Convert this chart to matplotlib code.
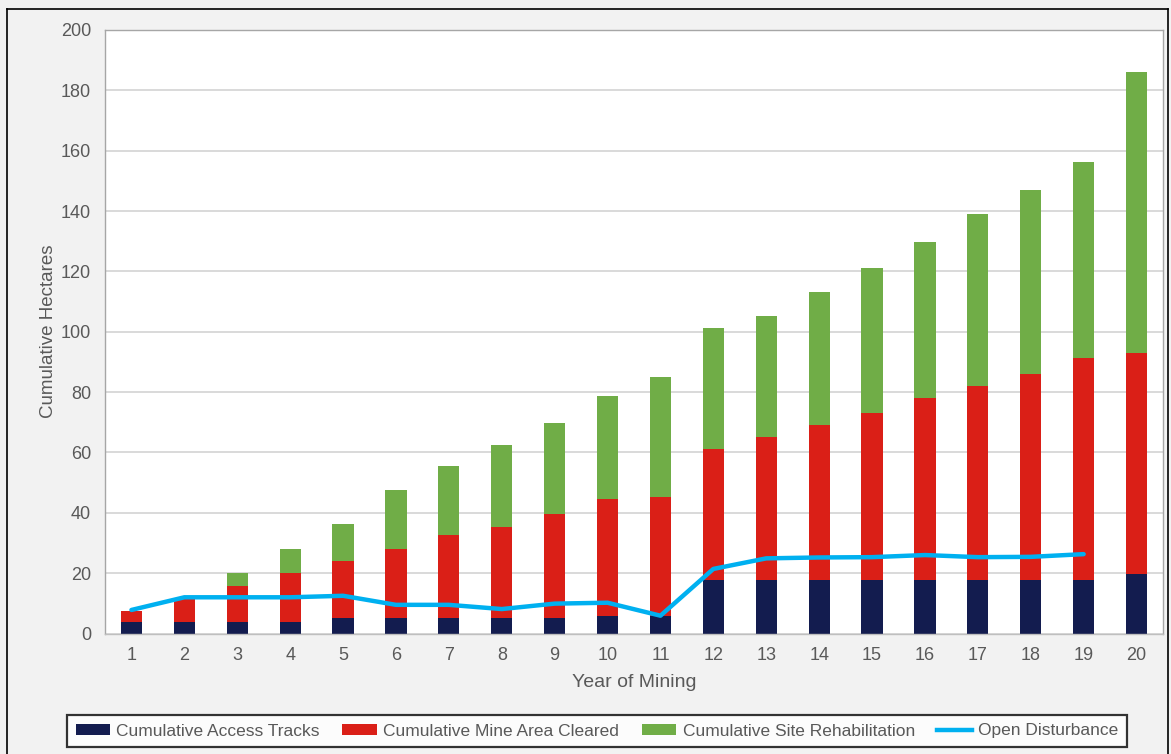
import matplotlib
matplotlib.use("Agg")
import matplotlib.pyplot as plt
from matplotlib.patches import Patch
from matplotlib.lines import Line2D
import numpy as np

plt.rcParams['font.family'] = ['Liberation Sans', 'DejaVu Sans']

years = list(range(1, 21))
access_tracks = [3.7, 3.7, 3.7, 3.7, 5.2, 5.2, 5.2, 5.2, 5.2, 5.8,
                 5.8, 17.7, 17.7, 17.7, 17.7, 17.7, 17.7, 17.7, 17.7, 19.6]
mine_area_cleared = [3.9, 7.6, 12.2, 16.3, 18.9, 22.9, 27.4, 30.1, 34.3, 38.7,
                     39.6, 43.5, 47.5, 51.5, 55.4, 60.3, 64.3, 68.4, 73.6, 73.5]
site_rehabilitation = [0.0, 0.0, 4.1, 7.9, 12.3, 19.4, 22.9, 27.1, 30.3, 34.3,
                       39.6, 40.1, 40.1, 44.1, 48.1, 51.8, 57.0, 60.8, 64.8, 92.9]
open_disturbance = [7.8, 12.0, 12.0, 12.0, 12.5, 9.5, 9.5, 8.1, 9.9, 10.2,
                    5.9, 21.4, 24.9, 25.2, 25.3, 26.0, 25.3, 25.4, 26.3]

navy = '#131c4f'
red = '#da1f17'
green = '#70ad47'
blue = '#00b0f0'
text_gray = '#595959'

W, H = 1171, 754
fig = plt.figure(figsize=(W / 100, H / 100), dpi=100, facecolor='#f2f2f2')

# outer frame
for xs, ys in [([7, 7], [9, H + 5]), ([7, 1168], [9, 9]), ([1168, 1168], [9, H + 5])]:
    fig.add_artist(Line2D([x / W for x in xs], [1 - y / H for y in ys],
                          color='black', lw=1.2, transform=fig.transFigure))

ax = fig.add_axes([105 / W, 1 - 633.5 / H, (1163 - 105) / W, (633.5 - 30) / H])
ax.set_facecolor('white')

x = np.array(years)
acc = np.array(access_tracks)
mine = np.array(mine_area_cleared)
reh = np.array(site_rehabilitation)
w = 0.4
ax.bar(x, acc, w, color=navy, zorder=2)
ax.bar(x, mine, w, bottom=acc, color=red, zorder=2)
ax.bar(x, reh, w, bottom=acc + mine, color=green, zorder=2)
ax.plot(years[:len(open_disturbance)], open_disturbance, color=blue, lw=3.2,
        zorder=3, solid_capstyle='round', solid_joinstyle='round')

ax.set_xlim(0.5, 20.5)
ax.set_ylim(0, 200)
ax.set_yticks(range(0, 201, 20))
ax.set_xticks(years)
ax.grid(axis='y', color='#d9d9d9', lw=1.4, zorder=0)
ax.set_axisbelow(True)
ax.tick_params(length=0, labelsize=13, colors=text_gray, pad=10)
for s in ax.spines.values():
    s.set_color('#a6a6a6')
    s.set_linewidth(1.0)
ax.spines['bottom'].set_color('#bfbfbf')

ax.set_xlabel('Year of Mining', fontsize=14, color=text_gray, labelpad=7)
ax.set_ylabel('Cumulative Hectares', fontsize=13.5, color=text_gray, labelpad=3)

handles = [
    Patch(facecolor=navy, label='Cumulative Access Tracks'),
    Patch(facecolor=red, label='Cumulative Mine Area Cleared'),
    Patch(facecolor=green, label='Cumulative Site Rehabilitation'),
    Line2D([0], [0], color=blue, lw=3.2, label='Open Disturbance'),
]
leg = fig.legend(handles=handles, ncol=4, loc='center',
                 bbox_to_anchor=(597 / W, 1 - 731 / H),
                 fontsize=12.5, frameon=True, fancybox=False,
                 handlelength=2.0, handleheight=0.6, handletextpad=0.35,
                 columnspacing=1.3, borderpad=0.5, borderaxespad=0,
                 labelcolor=text_gray)
leg.get_frame().set_edgecolor('black')
leg.get_frame().set_linewidth(1.6)
leg.get_frame().set_facecolor('white')

fig.savefig('out.png', dpi=100, facecolor=fig.get_facecolor())
